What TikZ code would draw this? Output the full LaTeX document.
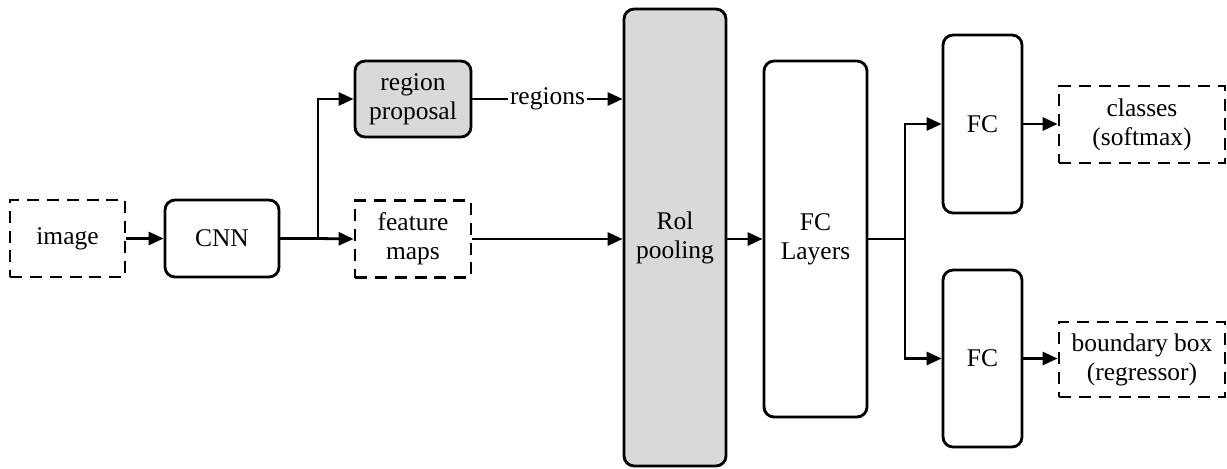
\documentclass[tikz,border=0pt]{standalone}
\usepackage{fontspec}
\setmainfont{Liberation Serif}
\usetikzlibrary{arrows.meta,positioning}
\definecolor{boxgray}{RGB}{217,217,217}

\begin{document}
\begin{tikzpicture}[x=0.02cm,y=0.02cm,line width=1.6pt,font=\fontsize{14.5}{16.5}\selectfont,
  block/.style={draw,rounded corners=0.2cm,align=center,inner sep=0pt},
  dashbox/.style={draw,dash pattern=on 6.8pt off 4.5pt,align=center,inner sep=0pt},
  link/.style={-{Triangle[length=0.3cm,width=0.26cm]}}]
\useasboundingbox (0,0) rectangle (1227,-468);
% input side
\node [dashbox,minimum width=2.3cm,minimum height=1.54cm] (img) at (67.5,-238.5) {image};
\node [block,minimum width=2.28cm,minimum height=1.54cm] (cnn) at (222,-238.5) {CNN};
\node [block,fill=boxgray,minimum width=2.32cm,minimum height=1.52cm] (rpn) at (413,-99) {region\\proposal};
\node [dashbox,minimum width=2.32cm,minimum height=1.54cm] (fmap) at (413,-239) {feature\\maps};
% pooling and fc stack
\node [block,fill=boxgray,minimum width=2.04cm,minimum height=9.14cm] (roi) at (675,-237.5) {Rol\\pooling};
\node [block,minimum width=2.06cm,minimum height=7.12cm] (fcl) at (815.5,-239) {FC\\Layers};
\node [block,minimum width=1.58cm,minimum height=3.56cm] (fca) at (982.5,-124) {FC};
\node [block,minimum width=1.58cm,minimum height=3.54cm] (fcb) at (982.5,-358.5) {FC};
% outputs
\node [dashbox,minimum width=3.32cm,minimum height=1.54cm] (cls) at (1142,-124.5) {classes\\(softmax)};
\node [dashbox,minimum width=3.32cm,minimum height=1.5cm] (bbox) at (1142,-359.5) {boundary box\\(regressor)};
\coordinate (s1) at (318,-238.5);
\coordinate (s2) at (905,-239);
\draw [link] (img) -- (cnn);
\draw (cnn.east) -- (s1);
\draw [link] (s1) -- (fmap.west);
\draw [link] (s1) |- (rpn.west);
\draw [link] (rpn.east) -- node [fill=white,inner sep=1pt] {regions} (rpn.east -| roi.west);
\draw [link] (fmap.east) -- (fmap.east -| roi.west);
\draw [link] (roi.east |- fcl) -- (fcl.west);
\draw (fcl.east) -- (s2);
\draw [link] (s2) |- (fca.west);
\draw [link] (s2) |- (fcb.west);
\draw [link] (fca.east) -- (fca.east -| cls.west);
\draw [link] (fcb.east) -- (fcb.east -| bbox.west);
\end{tikzpicture}
\end{document}
